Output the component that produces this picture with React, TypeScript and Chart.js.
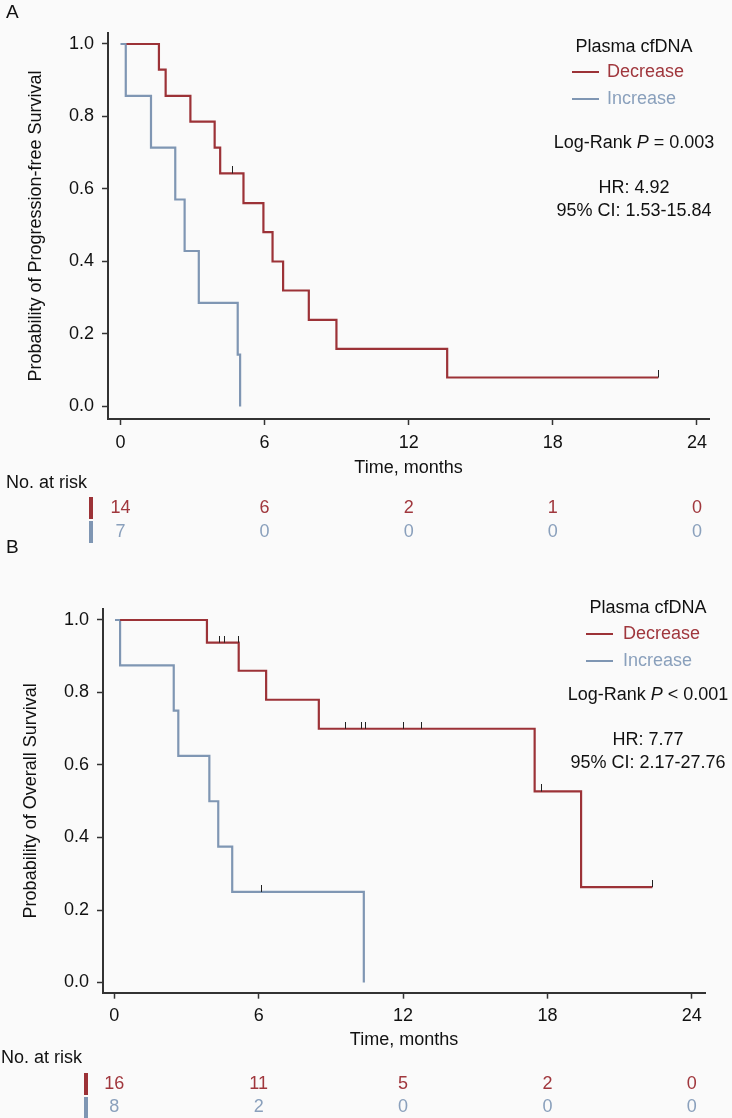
import React, { useEffect, useRef } from 'react';
import { Chart, registerables } from 'chart.js';

Chart.register(...registerables);

const FONT = "'Liberation Sans', Arial, Helvetica, sans-serif";
const RED = '#9c3237';
const BLUE = '#7f96b3';
const RED_TEXT = '#a0373d';
const BLUE_TEXT = '#8aa0bc';
const AXIS = '#333333';
const INK = '#111111';

// shared ticks
const xTicks = [0, 6, 12, 18, 24];
const yTicks = [0, 0.2, 0.4, 0.6, 0.8, 1.0];
const riskTimes = [0, 6, 12, 18, 24];

// Panel A: progression-free survival
const pfsDecTimes = [0.25, 1.6, 1.88, 2.91, 3.92, 4.15, 5.12, 5.95, 6.33, 6.77, 7.84, 8.99, 13.6, 22.39];
const pfsDecSurv = [1.0, 0.929, 0.857, 0.786, 0.714, 0.643, 0.561, 0.481, 0.4, 0.32, 0.239, 0.159, 0.08, 0.08];
const pfsDecCensorTimes = [4.66, 22.39];
const pfsDecCensorSurv = [0.643, 0.08];
const pfsIncTimes = [0, 0.22, 1.27, 2.28, 2.67, 3.26, 4.88, 4.98];
const pfsIncSurv = [1.0, 0.857, 0.714, 0.571, 0.429, 0.286, 0.143, 0];
const pfsRiskDec = [14, 6, 2, 1, 0];
const pfsRiskInc = [7, 0, 0, 0, 0];

// Panel B: overall survival
const osDecTimes = [0.24, 3.85, 5.17, 6.31, 8.5, 17.47, 19.4, 22.36];
const osDecSurv = [1.0, 0.9375, 0.86, 0.78, 0.7, 0.527, 0.263, 0.263];
const osDecCensorTimes = [4.36, 4.56, 5.15, 9.6, 10.28, 10.46, 12.03, 12.77, 17.75, 22.36];
const osDecCensorSurv = [0.9375, 0.9375, 0.9375, 0.7, 0.7, 0.7, 0.7, 0.7, 0.527, 0.263];
const osIncTimes = [0.03, 0.24, 2.47, 2.66, 3.95, 4.32, 4.9, 10.37];
const osIncSurv = [1.0, 0.875, 0.75, 0.625, 0.5, 0.375, 0.25, 0];
const osIncCensorTimes = [6.11];
const osIncCensorSurv = [0.25];
const osRiskDec = [16, 11, 5, 2, 0];
const osRiskInc = [8, 2, 0, 0, 0];

type Panel = {
  letter: string;
  yTitle: string;
  decT: number[]; decS: number[];
  incT: number[]; incS: number[];
  cenT: number[]; cenS: number[];
  riskDec: number[]; riskInc: number[];
  pRel: string; pVal: string; hr: string; ci: string;
  layout: any;
};

const panels: Panel[] = [
  {
    letter: 'A',
    yTitle: 'Probability of Progression-free Survival',
    decT: pfsDecTimes, decS: pfsDecSurv, incT: pfsIncTimes, incS: pfsIncSurv,
    cenT: pfsDecCensorTimes, cenS: pfsDecCensorSurv,
    riskDec: pfsRiskDec, riskInc: pfsRiskInc,
    pRel: '=', pVal: '0.003', hr: 'HR: 4.92', ci: '95% CI: 1.53-15.84',
    layout: {
      pad: { top: 33, right: 23, bottom: 558, left: 0 },
      yWidth: 108, xHeight: 141, xMin: -0.52, xMax: 24.5, yMin: -0.0345, yMax: 1.0303,
      xTitlePad: 81, yTitlePad: 25,
      letterX: 6, letterY: 13,
      legCx: 634, legTitleY: 47, legLineX0: 572, legLineX1: 599, legTextX: 607, legY1: 72, legY2: 99,
      lrY: 143, hrY: 188, ciY: 211,
      riskLabelX: 6, riskLabelY: 483, row1: 508, row2: 532, barX: 89, bar1: [497, 519], bar2: [521, 543],
    },
  },
  {
    letter: 'B',
    yTitle: 'Probability of Overall Survival',
    decT: osDecTimes, decS: osDecSurv, incT: osIncTimes, incS: osIncSurv,
    cenT: [...osDecCensorTimes, ...osIncCensorTimes], cenS: [...osDecCensorSurv, ...osIncCensorSurv],
    riskDec: osRiskDec, riskInc: osRiskInc,
    pRel: '<', pVal: '0.001', hr: 'HR: 7.77', ci: '95% CI: 2.17-27.76',
    layout: {
      pad: { top: 609, right: 27, bottom: 0, left: 0 },
      yWidth: 103, xHeight: 125.3, xMin: -0.47, xMax: 24.55, yMin: -0.0281, yMax: 1.0303,
      xTitlePad: 67, yTitlePad: 20,
      letterX: 6, letterY: 548,
      legCx: 648, legTitleY: 608, legLineX0: 586, legLineX1: 613, legTextX: 623, legY1: 634, legY2: 661,
      lrY: 695, hrY: 740, ciY: 763,
      riskLabelX: 1, riskLabelY: 1058, row1: 1084, row2: 1107, barX: 84, bar1: [1073, 1095], bar2: [1097, 1118],
    },
  },
];

function overlay(p: Panel) {
  const L = p.layout;
  return {
    id: 'overlay' + p.letter,
    afterDraw(chart: any) {
      const ctx = chart.ctx as CanvasRenderingContext2D;
      const xs = chart.scales.x;
      ctx.save();
      ctx.textBaseline = 'middle';
      // panel letter
      ctx.fillStyle = INK;
      ctx.font = `19px ${FONT}`;
      ctx.textAlign = 'left';
      ctx.fillText(p.letter, L.letterX, L.letterY);
      // legend
      ctx.font = `18px ${FONT}`;
      ctx.textAlign = 'center';
      ctx.fillText('Plasma cfDNA', L.legCx, L.legTitleY);
      ctx.lineWidth = 2;
      ctx.strokeStyle = RED;
      ctx.beginPath(); ctx.moveTo(L.legLineX0, L.legY1); ctx.lineTo(L.legLineX1, L.legY1); ctx.stroke();
      ctx.strokeStyle = BLUE;
      ctx.beginPath(); ctx.moveTo(L.legLineX0, L.legY2); ctx.lineTo(L.legLineX1, L.legY2); ctx.stroke();
      ctx.textAlign = 'left';
      ctx.fillStyle = RED_TEXT;
      ctx.fillText('Decrease', L.legTextX, L.legY1);
      ctx.fillStyle = BLUE_TEXT;
      ctx.fillText('Increase', L.legTextX, L.legY2);
      // log-rank line with italic P
      ctx.fillStyle = INK;
      const normal = `18px ${FONT}`;
      const italic = `italic 18px ${FONT}`;
      const s1 = 'Log-Rank ';
      const s2 = 'P';
      const s3 = ' ' + p.pRel + ' ' + p.pVal;
      ctx.font = normal; const w1 = ctx.measureText(s1).width; const w3 = ctx.measureText(s3).width;
      ctx.font = italic; const w2 = ctx.measureText(s2).width;
      const x0 = L.legCx - (w1 + w2 + w3) / 2;
      ctx.font = normal; ctx.fillText(s1, x0, L.lrY);
      ctx.font = italic; ctx.fillText(s2, x0 + w1, L.lrY);
      ctx.font = normal; ctx.fillText(s3, x0 + w1 + w2, L.lrY);
      ctx.textAlign = 'center';
      ctx.fillText(p.hr, L.legCx, L.hrY);
      ctx.fillText(p.ci, L.legCx, L.ciY);
      // risk table
      ctx.textAlign = 'left';
      ctx.fillText('No. at risk', L.riskLabelX, L.riskLabelY);
      ctx.fillStyle = RED;
      ctx.fillRect(L.barX, L.bar1[0], 4, L.bar1[1] - L.bar1[0]);
      ctx.fillStyle = BLUE;
      ctx.fillRect(L.barX, L.bar2[0], 4, L.bar2[1] - L.bar2[0]);
      ctx.textAlign = 'center';
      riskTimes.forEach((t, i) => {
        const x = xs.getPixelForValue(t);
        ctx.fillStyle = RED_TEXT;
        ctx.fillText(String(p.riskDec[i]), x, L.row1);
        ctx.fillStyle = BLUE_TEXT;
        ctx.fillText(String(p.riskInc[i]), x, L.row2);
      });
      ctx.restore();
    },
  };
}

function makeCensorMark(): HTMLCanvasElement {
  const c = document.createElement('canvas');
  c.width = 1;
  c.height = 14;
  const g = c.getContext('2d')!;
  g.fillStyle = '#222';
  g.fillRect(0, 0, 1, 7);
  return c;
}

function PanelChart({ p }: { p: Panel }) {
  const ref = useRef<HTMLCanvasElement | null>(null);
  useEffect(() => {
    if (!ref.current) return;
    const L = p.layout;
    const mark = makeCensorMark();
    const tickFont = { size: 18, family: FONT };
    const chart = new Chart(ref.current, {
      type: 'line',
      data: {
        datasets: [
          {
            label: 'censored',
            data: p.cenT.map((t, i) => ({ x: t, y: p.cenS[i] })),
            showLine: false,
            pointStyle: mark as any,
            pointRadius: 3,
            borderColor: 'rgba(0,0,0,0)',
            backgroundColor: 'rgba(0,0,0,0)',
          },
          {
            label: 'Decrease',
            data: p.decT.map((t, i) => ({ x: t, y: p.decS[i] })),
            stepped: 'before',
            borderColor: RED,
            borderWidth: 2.2,
            pointRadius: 0,
            fill: false,
          },
          {
            label: 'Increase',
            data: p.incT.map((t, i) => ({ x: t, y: p.incS[i] })),
            stepped: 'before',
            borderColor: BLUE,
            borderWidth: 2.2,
            pointRadius: 0,
            fill: false,
          },
        ],
      },
      options: {
        responsive: false,
        animation: false,
        events: [],
        layout: { padding: L.pad },
        plugins: { legend: { display: false }, tooltip: { enabled: false } },
        scales: {
          x: {
            type: 'linear',
            min: L.xMin,
            max: L.xMax,
            afterBuildTicks: (s: any) => { s.ticks = xTicks.map((v) => ({ value: v })); },
            afterFit: (s: any) => { s.height = L.xHeight; },
            border: { display: true, color: AXIS, width: 2 },
            grid: { display: true, drawOnChartArea: false, drawTicks: true, tickLength: 6, tickColor: AXIS, tickWidth: 1.5 },
            ticks: { color: INK, font: tickFont, padding: 7, maxRotation: 0, autoSkip: false, callback: (v: any) => String(v) },
            title: { display: true, text: 'Time, months', color: INK, font: tickFont, padding: { top: 0, bottom: L.xTitlePad } },
          },
          y: {
            type: 'linear',
            min: L.yMin,
            max: L.yMax,
            afterBuildTicks: (s: any) => { s.ticks = yTicks.map((v) => ({ value: v })); },
            afterFit: (s: any) => { s.width = L.yWidth; },
            border: { display: true, color: AXIS, width: 2 },
            grid: { display: true, drawOnChartArea: false, drawTicks: true, tickLength: 6, tickColor: AXIS, tickWidth: 1.5 },
            ticks: { color: INK, font: tickFont, padding: 8, autoSkip: false, callback: (v: any) => Number(v).toFixed(1) },
            title: { display: true, text: p.yTitle, color: INK, font: tickFont, padding: { top: L.yTitlePad, bottom: 0 } },
          },
        },
      },
      plugins: [overlay(p)],
    } as any);
    return () => chart.destroy();
  }, [p]);
  return (
    <canvas
      ref={ref}
      width={732}
      height={1118}
      style={{ position: 'absolute', left: 0, top: 0, width: 732, height: 1118 }}
    />
  );
}

export default function App() {
  return (
    <div style={{ position: 'absolute', left: 0, top: 0, width: 732, height: 1118, background: '#fafafa', overflow: 'hidden' }}>
      {panels.map((p) => (
        <PanelChart key={p.letter} p={p} />
      ))}
    </div>
  );
}
